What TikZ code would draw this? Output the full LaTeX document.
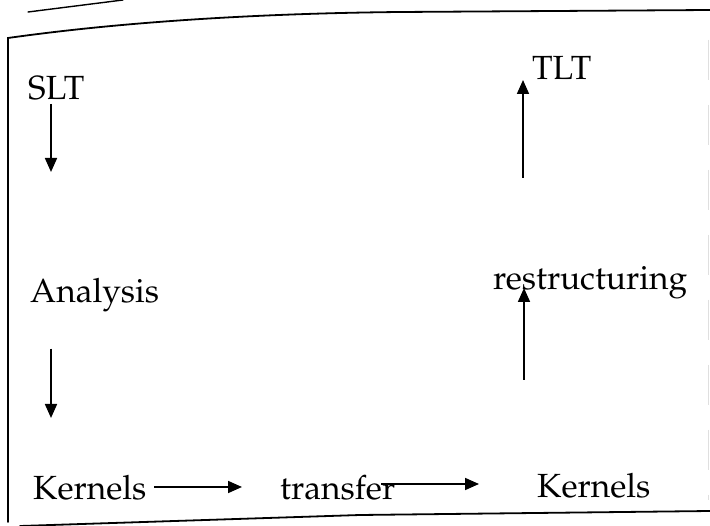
\documentclass[tikz,border=0pt]{standalone}
\usepackage[T1]{fontenc}
\usetikzlibrary{arrows.meta}

\tikzset{
  lbl/.style={anchor=base west, inner sep=0pt, font=\fontfamily{ppl}\fontsize{33.5}{40}\selectfont},
  arr/.style={line width=1.7pt, -{Triangle[length=14pt,width=12pt]}},
  frame/.style={line width=1.8pt, line cap=round}
}

\begin{document}
\begin{tikzpicture}[x=1pt,y=-1pt]
  \useasboundingbox (0,0) rectangle (710,526);

  % page frame
  \draw[frame] (8,522) -- (8,38) .. controls (150,18) and (300,13) .. (400,12) -- (710,10);
  \draw[frame] (20,526) -- (360,515) -- (710,511);
  \draw[frame, line width=1.4pt] (28,12) -- (123,0);
  \draw[gray!25, line width=1pt, dash pattern=on 40pt off 25pt] (708,40) -- (708,500);

  % labels
  \node[lbl] (slt) at (28,100) {SLT};
  \node[lbl] (tlt) at (532,80) {TLT};
  \node[lbl] (ana) at (30,303) {Analysis};
  \node[lbl] (res) at (493,290) {restructuring};
  \node[lbl] (k1)  at (33,500) {Kernels};
  \node[lbl] (tr)  at (280,500) {transfer};
  \node[lbl] (k2)  at (537,498) {Kernels};

  % free arrow ends
  \coordinate (e1) at (51,172);
  \coordinate (e2) at (51,418);
  \coordinate (e3) at (242,487);
  \coordinate (e4) at (479,484);
  \coordinate (s5) at (524,380);
  \coordinate (s6) at (523,178);

  % connectors
  \draw[arr, shorten <=3pt] (slt.south -| e1) -- (e1);
  \draw[arr, shorten <=36pt] (ana.south -| e2) -- (e2);
  \draw[arr, shorten <=8pt] (k1.east |- e3) -- (e3);
  \draw[arr, shorten <=-14pt] (tr.east |- e4) -- (e4);
  \draw[arr, shorten >=-2pt] (s5) -- (res.base -| s5);
  \draw[arr] (s6) -- (tlt.base -| s6);
\end{tikzpicture}
\end{document}
